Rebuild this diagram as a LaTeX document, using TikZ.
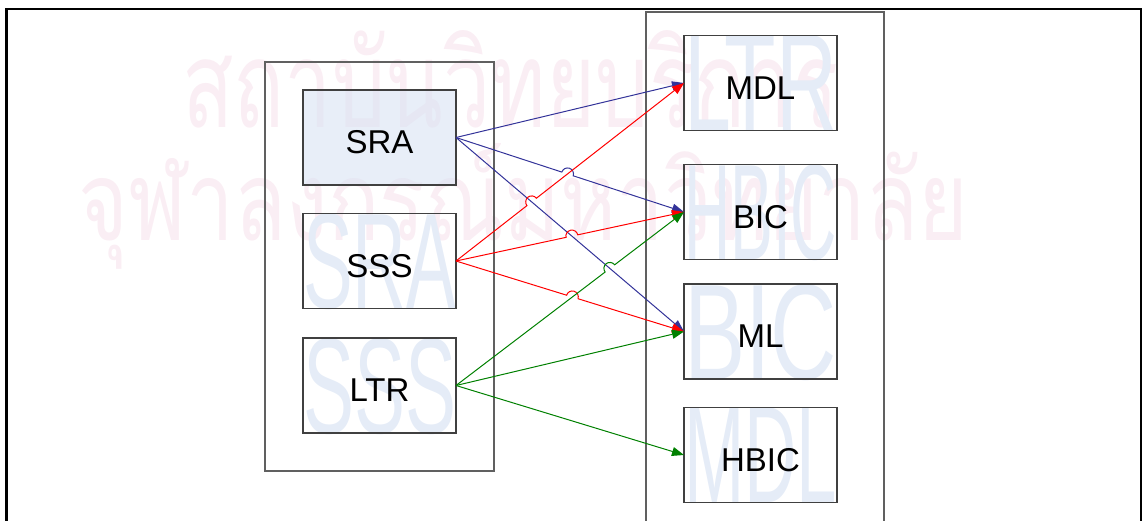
\documentclass[tikz,border=0pt]{standalone}
\usepackage{graphicx}
\usepackage{fontspec}
\setmainfont{Liberation Sans}
\newfontfamily\thaifont[Script=Thai]{Loma}
\usetikzlibrary{arrows.meta,calc}

\pgfdeclarelayer{back}
\pgfdeclarelayer{mark}
\pgfsetlayers{back,mark,main}

\definecolor{boxgray}{RGB}{64,64,64}
\definecolor{groupgray}{RGB}{96,96,96}
\definecolor{srafill}{RGB}{217,227,243}
\definecolor{ghostblue}{RGB}{229,236,247}
\definecolor{ghostpink}{RGB}{250,238,244}
\definecolor{linkblue}{RGB}{51,51,153}
\definecolor{linkred}{RGB}{255,0,0}
\definecolor{linkgreen}{RGB}{0,128,0}

\newcommand\hopr{6pt}
% a link that jumps over another link at the crossing point #4
\newcommand\hoplink[4]{%
  \draw[#1] let \p1=($(#3)-(#2)$), \n1={atan2(\y1,\x1)} in
    (#2) -- ($(#4)!\hopr!(#2)$)
    arc[start angle=\n1+180, end angle=\n1, radius=\hopr] -- (#3);
}

\tikzset{
  frame/.style={draw=black, line width=2.6pt},
  group/.style={draw=groupgray, line width=1.2pt, inner sep=0pt, outer sep=0pt},
  box/.style={draw=boxgray, line width=1.3pt, minimum width=153pt, minimum height=95pt,
    inner sep=0pt, outer sep=0pt, text height=32pt, text depth=0pt,
    font=\fontsize{33}{40}\selectfont},
  ghost/.style={text=ghostblue, inner sep=0pt, anchor=base west,
    font=\fontsize{40}{48}\selectfont},
  wmark/.style={text=ghostpink, inner sep=0pt, anchor=base west},
  link/.style={line width=1pt, -{Triangle[length=12pt,width=9pt]}},
  bluelink/.style={link, draw=linkblue},
  redlink/.style={link, draw=linkred},
  greenlink/.style={link, draw=linkgreen},
}

\begin{document}
\begin{tikzpicture}[x=1pt,y=-1pt]
\useasboundingbox (0,0) rectangle (1143,520);
\clip (0,0) rectangle (1143,520);

% outer frame (open at the bottom edge of the page)
\draw[frame] (6.5,560) -- (6.5,9) -- (1141,9) -- (1141,560);

% containers
\node[group, minimum width=229pt, minimum height=409pt] (srcgroup) at (379.5,266.5) {};
\node[group, minimum width=238pt, minimum height=560pt] (tgtgroup) at (765,292) {};

% source boxes
\node[box] (SRA) at (379.5,137.5) {SRA};
\node[box] (SSS) at (379.5,261) {SSS};
\node[box] (LTR) at (379.5,385.5) {LTR};

% target boxes
\node[box] (MDL) at (760.5,83) {MDL};
\node[box] (BIC) at (760.5,212) {BIC};
\node[box] (ML) at (760.5,331.5) {ML};
\node[box] (HBIC) at (760.5,455) {HBIC};

\begin{pgfonlayer}{back}
  % Thai watermark
  \node[wmark] (wm1) at (182,127) {\resizebox{656pt}{97pt}{\thaifont สถาบันวิทยบริการ}};
  \node[wmark] (wm2) at (78,240) {\resizebox{890pt}{97pt}{\thaifont จุฬาลงกรณ์มหาวิทยาลัย}};
  % tinted box, letting the watermark show through
  \fill[srafill, fill opacity=0.6] (SRA.south west) rectangle (SRA.north east);
\end{pgfonlayer}

\begin{pgfonlayer}{mark}
  % large pale letters filling the boxes
  \node[ghost] (gSRA) at (SSS.south west) {\resizebox{153pt}{95pt}{SRA}};
  \node[ghost] (gSSS) at (LTR.south west) {\resizebox{153pt}{95pt}{SSS}};
  \node[ghost] (gLTR) at (MDL.south west) {\resizebox{153pt}{95pt}{LTR}};
  \node[ghost] (gHBIC) at (BIC.south west) {\resizebox{153pt}{95pt}{HBIC}};
  \node[ghost] (gBIC) at (ML.south west) {\resizebox{153pt}{95pt}{BIC}};
  \node[ghost] (gMDL) at (HBIC.south west) {\resizebox{153pt}{95pt}{MDL}};
\end{pgfonlayer}

% crossing points where a link jumps over another
\coordinate (h1) at (intersection of SRA.east--BIC.west and SSS.east--MDL.west);
\coordinate (h2) at (intersection of SSS.east--MDL.west and SRA.east--ML.west);
\coordinate (h3) at (intersection of SSS.east--BIC.west and SRA.east--ML.west);
\coordinate (h4) at (intersection of SSS.east--ML.west and LTR.east--BIC.west);
\coordinate (h5) at (intersection of LTR.east--BIC.west and SRA.east--ML.west);

% links from SRA
\draw[bluelink] (SRA.east) -- (MDL.west);
\hoplink{bluelink}{SRA.east}{BIC.west}{h1}
\draw[bluelink] (SRA.east) -- (ML.west);

% links from SSS
\hoplink{redlink}{SSS.east}{MDL.west}{h2}
\hoplink{redlink}{SSS.east}{BIC.west}{h3}
\hoplink{redlink}{SSS.east}{ML.west}{h4}

% links from LTR
\hoplink{greenlink}{LTR.east}{BIC.west}{h5}
\draw[greenlink] (LTR.east) -- (ML.west);
\draw[greenlink] (LTR.east) -- (HBIC.west);
\end{tikzpicture}
\end{document}
